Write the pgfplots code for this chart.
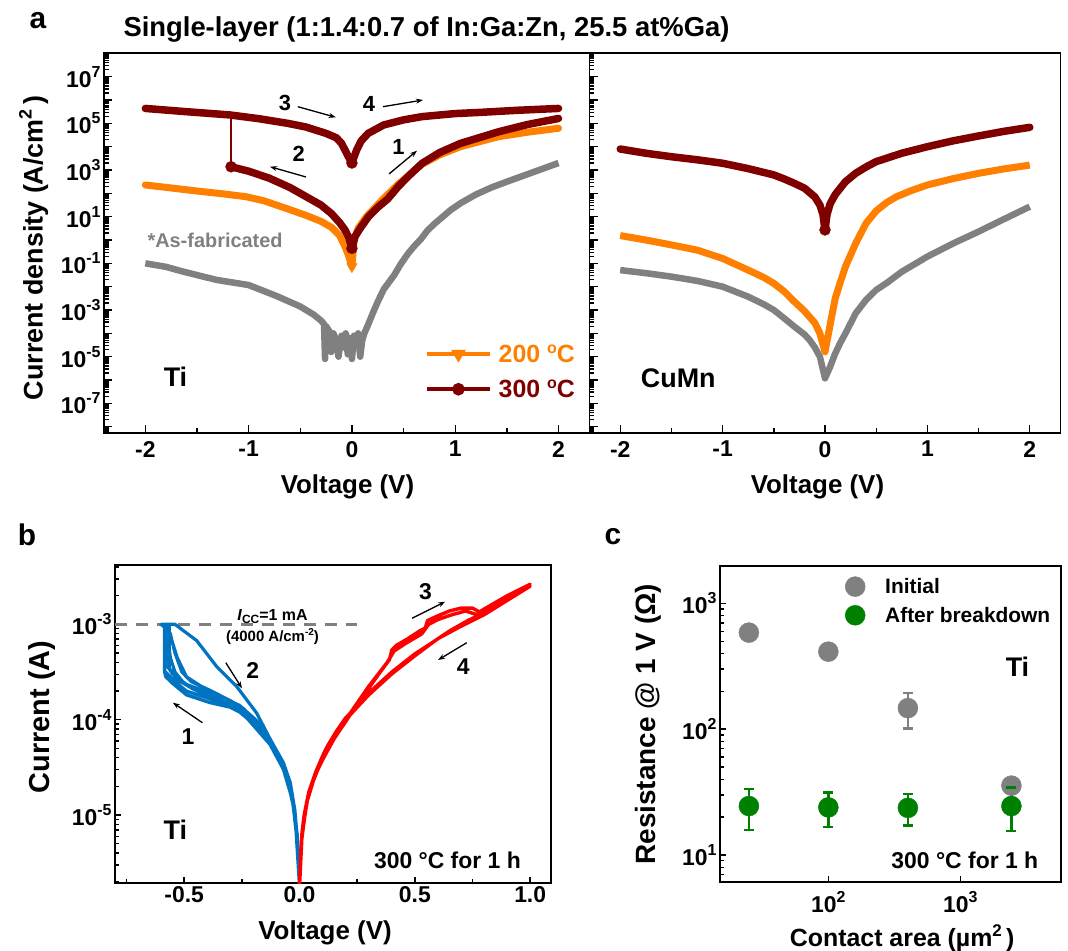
\documentclass[border=0pt]{standalone}
\usepackage{fontspec}
\setmainfont{Liberation Sans}[UprightFont={* Bold},ItalicFont={* Bold Italic},BoldFont={* Bold},BoldItalicFont={* Bold Italic}]
\usepackage{pgfplots}
\pgfplotsset{compat=1.18}
\usepackage{pgfplotstable}
\usetikzlibrary{arrows.meta}

\definecolor{dred}{RGB}{128,0,0}
\definecolor{orng}{RGB}{255,128,0}
\definecolor{gry}{RGB}{128,128,128}
\definecolor{bblue}{RGB}{0,116,193}
\definecolor{rred}{RGB}{255,0,0}
\definecolor{ggreen}{RGB}{0,128,0}

\newcommand{\fs}[1]{\fontsize{#1}{#1}\selectfont}
\newcommand{\tl}[1]{10\raisebox{10bp}{\fs{16}#1}}
\newcommand{\degsup}{\raisebox{9bp}{\fs{16}o}}

\def\mlist{}
\foreach \e in {-9,...,8}{\foreach \m in {2,...,9}{\xdef\mlist{\mlist\m e\e,}}}
\xdef\mlist{\mlist 1e9}
\edef\tmp{\noexpand\pgfplotsset{logminor/.style={minor ytick={\mlist}}}}\tmp

\pgfplotsset{
  base/.style={
    scale only axis, anchor=south west,
    axis line style={line width=1.8bp},
    every tick/.style={black, line width=1.4bp},
    major tick length=8bp, minor tick length=4.5bp,
    tick align=inside,
    tick label style={font=\fs{23}},
    /pgf/number format/assume math mode=true,
    xtick pos=bottom, ytick pos=left,
  },
}

% ---------------- Panel a, Ti (V, log10 J) ----------------
\pgfplotstableread{
V L
-2.0 -1.0
-1.8 -1.15
-1.63 -1.36
-1.31 -1.71
-1.0 -1.93
-0.73 -2.4
-0.5 -2.85
-0.37 -3.2
-0.3 -3.45
-0.27 -3.6
-0.26 -5.1
-0.25 -3.7
-0.22 -3.9
-0.2 -4.8
-0.18 -4.0
-0.15 -4.3
-0.13 -5.0
-0.1 -4.1
-0.08 -4.6
-0.06 -4.0
-0.04 -4.9
-0.02 -4.2
0.0 -5.1
0.02 -4.1
0.04 -4.5
0.06 -4.0
0.08 -5.0
0.1 -4.3
0.12 -4.0
0.15 -3.7
0.215 -3.0
0.26 -2.55
0.31 -2.1
0.36 -1.8
0.41 -1.5
0.47 -1.05
0.54 -0.6
0.6 -0.28
0.67 0.05
0.73 0.4
0.8 0.7
0.88 1.0
0.96 1.3
1.06 1.6
1.2 1.95
1.35 2.25
1.5 2.5
1.75 2.9
2.0 3.3
}\tiGray

\pgfplotstableread{
V L
-2.0 2.36
-1.75 2.23
-1.5 2.1
-1.25 1.98
-1.03 1.86
-0.85 1.68
-0.6 1.3
-0.44 1.05
-0.3 0.8
-0.2 0.55
-0.12 0.2
-0.066 -0.29
-0.03 -0.7
0.0 -1.14
0.02 0.0
0.06 0.5
0.14 1.0
0.3 1.75
0.45 2.4
0.68 3.25
0.85 3.65
1.05 4.0
1.42 4.43
1.7 4.62
2.0 4.79
}\tiOrange

\pgfplotstableread{
V L
-2.0 5.64
-1.6 5.50
-1.18 5.36
-0.9 5.20
-0.62 5.0
-0.45 4.85
-0.25 4.57
-0.15 4.38
-0.1 4.14
-0.05 3.71
-0.02 3.45
0.0 3.30
0.02 3.55
0.046 3.86
0.09 4.25
0.157 4.57
0.307 4.93
0.5 5.15
0.68 5.29
1.0 5.42
1.24 5.47
1.6 5.56
2.0 5.64
}\tiRedHigh

\pgfplotstableread{
V L
-1.17 3.14
-1.0 2.95
-0.8 2.65
-0.6 2.25
-0.44 1.85
-0.3 1.5
-0.2 1.14
-0.12 0.75
-0.07 0.45
-0.03 0.1
0.0 -0.36
0.03 0.15
0.08 0.5
0.16 1.0
0.25 1.4
0.345 1.75
0.45 2.3
0.55 2.75
0.68 3.29
0.85 3.75
1.05 4.14
1.42 4.64
1.7 4.95
2.0 5.21
}\tiRedLow

% ---------------- Panel a, CuMn ----------------
\pgfplotstableread{
V L
-2.0 -1.29
-1.75 -1.42
-1.5 -1.57
-1.25 -1.75
-1.0 -2.0
-0.75 -2.43
-0.6 -2.75
-0.5 -3.0
-0.4 -3.35
-0.3 -3.71
-0.2 -4.05
-0.15 -4.29
-0.1 -4.6
-0.05 -5.0
0.0 -5.93
0.05 -5.43
0.1 -4.86
0.15 -4.4
0.2 -4.0
0.3 -3.14
0.4 -2.57
0.5 -2.14
0.6 -1.85
0.75 -1.36
1.0 -0.71
1.25 -0.15
1.5 0.36
1.75 0.9
2.0 1.43
}\cuGray

\pgfplotstableread{
V L
-2.0 0.19
-1.75 0.0
-1.5 -0.21
-1.25 -0.43
-1.0 -0.79
-0.75 -1.29
-0.6 -1.6
-0.5 -1.86
-0.4 -2.2
-0.3 -2.64
-0.2 -3.05
-0.1 -3.55
-0.05 -4.0
0.0 -4.79
0.03 -4.1
0.06 -3.4
0.1 -2.5
0.15 -1.8
0.2 -1.14
0.3 -0.14
0.4 0.71
0.5 1.25
0.6 1.6
0.7 1.86
0.85 2.13
1.0 2.36
1.25 2.63
1.5 2.86
1.75 3.05
2.0 3.21
}\cuOrange

\pgfplotstableread{
V L
-2.0 3.9
-1.75 3.72
-1.5 3.57
-1.25 3.44
-1.0 3.29
-0.75 3.06
-0.5 2.79
-0.4 2.62
-0.3 2.43
-0.2 2.22
-0.1 1.85
-0.05 1.5
-0.02 1.1
0.0 0.43
0.02 1.1
0.05 1.55
0.1 1.95
0.2 2.5
0.3 2.86
0.4 3.13
0.5 3.36
0.75 3.72
1.0 4.0
1.25 4.25
1.5 4.46
1.75 4.66
2.0 4.83
}\cuRed

% ---------------- Panel b (V, log10 I) ----------------
\pgfplotstableread{
V L
0.0 -5.75
-0.008 -5.3
-0.02 -5.0
-0.04 -4.72
-0.07 -4.5
-0.128 -4.24
-0.186 -4.08
-0.244 -3.93
-0.3 -3.86
-0.39 -3.78
-0.49 -3.7
-0.54 -3.6
-0.584 -3.49
-0.584 -3.0
-0.6 -3.0
-0.54 -3.0
-0.446 -3.17
-0.36 -3.44
-0.273 -3.65
-0.186 -3.93
-0.128 -4.2
-0.07 -4.45
-0.04 -4.66
-0.02 -4.95
-0.008 -5.3
0.0 -5.75
-0.008 -5.28
-0.02 -4.98
-0.04 -4.7
-0.07 -4.48
-0.128 -4.22
-0.186 -4.05
-0.244 -3.9
-0.3 -3.82
-0.39 -3.72
-0.49 -3.63
-0.55 -3.52
-0.57 -3.45
-0.57 -3.0
-0.59 -3.0
-0.56 -3.1
-0.54 -3.3
-0.51 -3.5
-0.47 -3.6
-0.39 -3.69
-0.3 -3.8
-0.244 -3.88
-0.186 -4.02
-0.128 -4.2
-0.07 -4.47
-0.03 -4.8
-0.008 -5.3
0.0 -5.75
-0.008 -5.32
-0.03 -4.85
-0.07 -4.52
-0.128 -4.26
-0.2 -4.06
-0.244 -3.94
-0.3 -3.87
-0.39 -3.82
-0.49 -3.74
-0.55 -3.62
-0.58 -3.55
-0.585 -3.5
-0.585 -3.0
-0.6 -3.0
-0.575 -3.05
-0.56 -3.35
-0.54 -3.5
-0.5 -3.62
-0.44 -3.7
-0.36 -3.78
-0.28 -3.86
-0.2 -4.0
-0.128 -4.22
-0.07 -4.5
-0.03 -4.84
-0.008 -5.3
0.0 -5.75
-0.01 -5.2
-0.04 -4.7
-0.1 -4.35
-0.18 -4.08
-0.27 -3.9
-0.36 -3.78
-0.46 -3.68
-0.53 -3.58
-0.565 -3.46
-0.565 -3.0
-0.585 -3.0
-0.56 -3.12
-0.53 -3.35
-0.49 -3.55
-0.42 -3.66
-0.34 -3.76
-0.26 -3.85
-0.19 -4.0
-0.128 -4.21
-0.06 -4.55
-0.02 -4.98
0.0 -5.75
}\bBlue

\pgfplotstableread{
V L
0.0 -5.75
0.005 -5.4
0.01 -5.2
0.02 -5.0
0.04 -4.78
0.07 -4.57
0.1 -4.42
0.15 -4.2
0.2 -4.02
0.25 -3.84
0.3 -3.67
0.35 -3.5
0.39 -3.37
0.4 -3.27
0.42 -3.22
0.47 -3.15
0.52 -3.07
0.545 -3.04
0.555 -2.96
0.6 -2.91
0.65 -2.86
0.7 -2.83
0.75 -2.83
0.78 -2.87
0.8 -2.84
0.85 -2.77
0.9 -2.7
0.95 -2.64
1.0 -2.58
0.95 -2.66
0.9 -2.74
0.8 -2.88
0.73 -2.96
0.65 -3.07
0.57 -3.2
0.5 -3.31
0.4 -3.5
0.3 -3.72
0.26 -3.84
0.2 -3.98
0.16 -4.12
0.12 -4.28
0.1 -4.38
0.07 -4.55
0.04 -4.76
0.02 -5.0
0.01 -5.25
0.0 -5.75
0.01 -5.2
0.04 -4.76
0.1 -4.4
0.2 -4.0
0.3 -3.65
0.38 -3.4
0.41 -3.28
0.46 -3.2
0.53 -3.1
0.56 -3.0
0.6 -2.95
0.66 -2.9
0.72 -2.86
0.77 -2.9
0.82 -2.85
0.9 -2.72
1.0 -2.6
0.9 -2.75
0.8 -2.9
0.7 -3.02
0.6 -3.15
0.5 -3.33
0.4 -3.52
0.3 -3.74
0.2 -4.0
0.12 -4.3
0.07 -4.56
0.03 -4.88
0.01 -5.25
0.0 -5.75
}\bRed

% ---------------- Panel c (area um^2, R ohm, err low, err high) ----------------
\pgfplotstableread{
A R lo hi
25 585 585 585
100 413 413 413
401 147 101.6 193
2440 35.6 35.6 35.6
}\cInit

\pgfplotstableread{
A R lo hi
25 24.5 15.8 33.4
100 23.9 16.7 31.3
401 23.7 17.1 30.4
2440 24.5 15.5 34.3
}\cAfter

\begin{document}
\begin{tikzpicture}[x=1bp,y=1bp]
\useasboundingbox (0bp,0bp) rectangle (1068bp,951bp);

% ================= Panel a, left (Ti) =================
\begin{axis}[base, at={(104bp,518.3bp)}, width=485.5bp, height=380bp,
  xmin=-2.4, xmax=2.3, ymode=log, ymin=5.5e-9, ymax=1.07e8,
  xtick={-2,-1,0,1,2}, xticklabels={-2,-1,0,1,2}, minor xtick={-1.5,-0.5,0.5,1.5},
  xticklabel style={yshift=-5bp},
  ytick={1e-8,1e-7,1e-6,1e-5,1e-4,1e-3,1e-2,1e-1,1,1e1,1e2,1e3,1e4,1e5,1e6,1e7,1e8},
  yticklabels={,\tl{-7},,\tl{-5},,\tl{-3},,\tl{-1},,\tl{1},,\tl{3},,\tl{5},,\tl{7},},
  logminor,
  xlabel={Voltage (V)}, ylabel={Current density (A/cm\raisebox{11bp}{\fs{18}2}\,)},
  xlabel style={at={(axis description cs:0.5015,-0.143)}, anchor=center, font=\fs{26}},
  ylabel style={at={(axis description cs:-0.145,0.486)}, anchor=center, font=\fs{27}},
  legend style={at={(axis description cs:0.6612,0.1605)}, anchor=west, draw=none, fill=none,
    font=\fs{25}, inner sep=0pt, row sep=12bp, column sep=5bp},
  legend cell align=left,
  legend image code/.code={\draw[mark repeat=2,mark phase=2,#1] plot coordinates {(0bp,0bp) (31.5bp,0bp) (63bp,0bp)};},
]
\addplot[gry, line width=6.5bp, line join=round, forget plot] table[x=V, y expr={10^(\thisrow{L})}] {\tiGray};
\addplot[orng, line width=7bp, line cap=round, line join=round, forget plot] table[x=V, y expr={10^(\thisrow{L})}] {\tiOrange};
\addplot[only marks, orng, mark=triangle*, mark size=6bp, mark options={rotate=180}, forget plot] coordinates {(0,0.072)};
\addplot[dred, line width=2.5bp, forget plot] coordinates {(-1.17,1380) (-1.17,229000)};
\addplot[dred, line width=7.5bp, line cap=round, line join=round, forget plot] table[x=V, y expr={10^(\thisrow{L})}] {\tiRedHigh};
\addplot[dred, line width=7.5bp, line cap=round, line join=round, forget plot] table[x=V, y expr={10^(\thisrow{L})}] {\tiRedLow};
\addplot[only marks, dred, mark=*, mark size=5.5bp, forget plot] coordinates {(0,2000) (0,0.44) (-1.17,1380)};
\addlegendimage{orng, line width=3.5bp, mark=triangle*, mark options={rotate=180, mark size=5bp}}
\addlegendentry{\textcolor{orng}{200 \degsup C}}
\addlegendimage{dred, line width=3.5bp, mark=*, mark options={mark size=4.5bp}}
\addlegendentry{\textcolor{dred}{300 \degsup C}}
\end{axis}

% ================= Panel a, right (CuMn) =================
\begin{axis}[base, at={(589.5bp,518.3bp)}, width=471bp, height=380bp,
  xmin=-2.3, xmax=2.3, ymode=log, ymin=5.5e-9, ymax=1.07e8,
  xtick={-2,-1,0,1,2}, xticklabels={-2,-1,0,1,2}, minor xtick={-1.5,-0.5,0.5,1.5},
  xticklabel style={yshift=-5bp},
  ytick={1e-8,1e-7,1e-6,1e-5,1e-4,1e-3,1e-2,1e-1,1,1e1,1e2,1e3,1e4,1e5,1e6,1e7,1e8},
  yticklabels={}, logminor,
  xlabel={Voltage (V)},
  xlabel style={at={(axis description cs:0.484,-0.143)}, anchor=center, font=\fs{26}},
]
\addplot[gry, line width=6.5bp, line join=round] table[x=V, y expr={10^(\thisrow{L})}] {\cuGray};
\addplot[orng, line width=7bp, line join=round] table[x=V, y expr={10^(\thisrow{L})}] {\cuOrange};
\addplot[dred, line width=7.5bp, line cap=round, line join=round] table[x=V, y expr={10^(\thisrow{L})}] {\cuRed};
\addplot[only marks, dred, mark=*, mark size=5.5bp] coordinates {(0,2.7)};
\end{axis}

% ================= Panel b =================
\begin{axis}[base, at={(115bp,68bp)}, width=435.7bp, height=318bp,
  xmin=-0.8, xmax=1.089, ymode=log, ymin=1.94e-6, ymax=4.19e-3,
  xtick={-0.5,0,0.5,1}, xticklabels={-0.5,0.0,0.5,1.0}, minor xtick={-0.75,-0.25,0.25,0.75},
  ytick={1e-5,1e-4,1e-3}, yticklabels={\tl{-5},\tl{-4},\tl{-3}},
  logminor, major tick length=6bp, minor tick length=4bp,
  xlabel={Voltage (V)}, ylabel={Current (A)},
  xlabel style={at={(axis description cs:0.482,-0.157)}, anchor=center, font=\fs{26}},
  ylabel style={at={(axis description cs:-0.1675,0.522)}, anchor=center, font=\fs{29}},
]
\addplot[gry, line width=2.5bp, dash pattern=on 12bp off 9bp] coordinates {(-0.8,1e-3) (0.25,1e-3)};
\addplot[bblue, line width=3.2bp, line join=round] table[x=V, y expr={10^(\thisrow{L})}] {\bBlue};
\addplot[rred, line width=3.4bp, line join=round] table[x=V, y expr={10^(\thisrow{L})}] {\bRed};
\end{axis}

% ================= Panel c =================
\begin{axis}[base, at={(720bp,68.7bp)}, width=341bp, height=316.3bp,
  xmode=log, ymode=log, xmin=15.1, xmax=5800, ymin=6.07, ymax=1980,
  xtick={100,1000}, xticklabels={\tl{2},\tl{3}}, xminorticks=false,
  xticklabel style={yshift=-6bp},
  ytick={10,100,1000}, yticklabels={\tl{1},\tl{2},\tl{3}},
  logminor, major tick length=6bp, minor tick length=4bp,
  xlabel={Contact area (\textmu m\raisebox{10bp}{\fs{17}2}\,)}, ylabel={Resistance @ 1 V (Ω)},
  xlabel style={at={(axis description cs:0.534,-0.176)}, anchor=center, font=\fs{25}},
  ylabel style={at={(axis description cs:-0.21,0.5)}, anchor=center, font=\fs{28}},
  legend style={at={(axis description cs:0.3666,0.968)}, anchor=north west, draw=none, fill=none,
    font=\fs{21}, inner sep=0pt, row sep=8bp, column sep=18bp},
  legend cell align=left,
  legend image code/.code={\draw[#1] plot coordinates {(10bp,0bp)};},
]
\addplot[gry, line width=2.5bp, forget plot] coordinates {(401,101.6) (401,193)};
\addplot[only marks, gry, mark=-, mark size=5bp, mark options={line width=2.5bp}, forget plot] table[x=A, y=lo] {\cInit};
\addplot[only marks, gry, mark=-, mark size=5bp, mark options={line width=2.5bp}, forget plot] table[x=A, y=hi] {\cInit};
\addplot[only marks, mark=*, mark size=10bp, gry] table[x=A, y=R] {\cInit};
\addlegendentry{Initial}
\addplot[ggreen, line width=2.5bp, forget plot] coordinates {(25,15.8) (25,33.4)};
\addplot[ggreen, line width=2.5bp, forget plot] coordinates {(100,16.7) (100,31.3)};
\addplot[ggreen, line width=2.5bp, forget plot] coordinates {(401,17.1) (401,30.4)};
\addplot[ggreen, line width=2.5bp, forget plot] coordinates {(2440,15.5) (2440,34.3)};
\addplot[only marks, ggreen, mark=-, mark size=5bp, mark options={line width=2.5bp}, forget plot] table[x=A, y=lo] {\cAfter};
\addplot[only marks, ggreen, mark=-, mark size=5bp, mark options={line width=2.5bp}, forget plot] table[x=A, y=hi] {\cAfter};
\addplot[only marks, mark=*, mark size=10bp, ggreen] table[x=A, y=R] {\cAfter};
\addlegendentry{After breakdown}
\end{axis}

% ================= Annotations =================
\node[anchor=west, font=\fs{27.5}] at (120,922) {Single-layer (1:1.4:0.7 of In:Ga:Zn, 25.5 at\%Ga)};
\node[font=\fs{30}] at (38,930) {a};
\node[font=\fs{30}] at (27,416) {b};
\node[font=\fs{30}] at (613,414) {c};

\node[anchor=west, font=\fs{20}, text=gry] at (144,711) {*As-fabricated};
\node[font=\fs{27}] at (175.5,574.3) {Ti};
\node[font=\fs{27}] at (678.3,572.7) {CuMn};
\node[font=\fs{22}] at (285,848) {3};
\node[font=\fs{22}] at (369,847) {4};
\node[font=\fs{22}] at (298.8,797) {2};
\node[font=\fs{22}] at (398.5,804) {1};
\draw[line width=1.3bp, -{Stealth[length=7bp,width=5bp]}] (297.8,844.3) -- (335.8,833.7);
\draw[line width=1.3bp, -{Stealth[length=7bp,width=5bp]}] (383,844.3) -- (423,851);
\draw[line width=1.3bp, -{Stealth[length=7bp,width=5bp]}] (306,774) -- (270,784.3);
\draw[line width=1.3bp, -{Stealth[length=7bp,width=5bp]}] (389,777) -- (417,800.3);

\node[font=\fs{16}] at (272.5,334.3) {\textit{I}\raisebox{-3bp}{\fs{12}CC}=1 mA};
\node[font=\fs{15}] at (272.5,314.3) {(4000 A/cm\raisebox{6bp}{\fs{10}-2})};
\node[font=\fs{23}] at (425.4,359.3) {3};
\node[font=\fs{23}] at (463.2,284.3) {4};
\node[font=\fs{23}] at (252.7,281) {2};
\node[font=\fs{23}] at (188,214.3) {1};
\draw[line width=1.3bp, -{Stealth[length=7bp,width=5bp]}] (412.1,332.7) -- (445.2,349.3);
\draw[line width=1.3bp, -{Stealth[length=7bp,width=5bp]}] (466.8,308.3) -- (438,291);
\draw[line width=1.3bp, -{Stealth[length=7bp,width=5bp]}] (225.8,288.3) -- (242,262.7);
\draw[line width=1.3bp, -{Stealth[length=7bp,width=5bp]}] (202.4,228.3) -- (172.9,248.3);
\node[font=\fs{27}] at (175.4,121) {Ti};
\node[anchor=east, font=\fs{23}] at (524.3,91) {300 °C for 1 h};

\node[font=\fs{27}] at (1017.5,284.3) {Ti};
\node[anchor=east, font=\fs{23}] at (1041.7,91) {300 °C for 1 h};
\end{tikzpicture}
\end{document}
